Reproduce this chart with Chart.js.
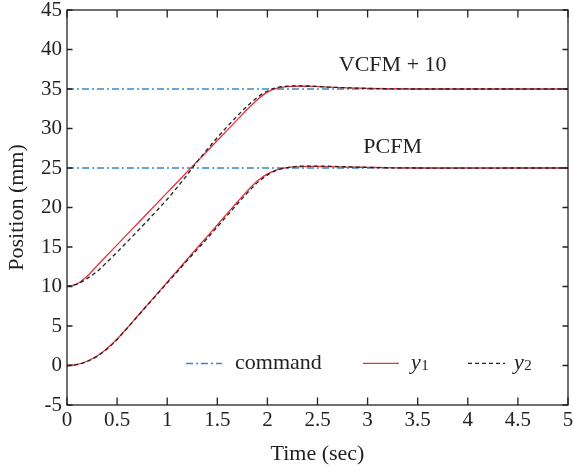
<!DOCTYPE html>
<html>
<head>
<meta charset="utf-8">
<script src="https://cdn.jsdelivr.net/npm/chart.js@4.4.1/dist/chart.umd.min.js"></script>
<style>
  html, body { margin: 0; padding: 0; background: #fff; }
  #wrap { width: 574px; height: 473px; position: relative; }
</style>
</head>
<body>
<div id="wrap"><canvas id="c"></canvas></div>
<script>
// ---- data ----
const timeSec = [0,0.1,0.2,0.3,0.4,0.5,0.6,0.7,0.8,0.9,1.0,1.1,1.2,1.3,1.4,1.5,1.6,1.7,1.8,1.9,2.0,2.1,2.2,2.3,2.4,2.5,2.6,2.8,3.0,3.2,3.5,4.0,4.5,5.0];
const pcfmY1 = [0,0.13,0.54,1.2,2.15,3.35,4.75,6.2,7.65,9.1,10.55,12.0,13.45,14.9,16.35,17.8,19.25,20.7,22.1,23.35,24.25,24.8,25.05,25.15,25.2,25.2,25.18,25.12,25.08,25.04,25.0,25.0,25.0,25.0];
const pcfmY2 = [0,0.12,0.5,1.15,2.1,3.3,4.7,6.15,7.6,9.0,10.45,11.85,13.3,14.7,16.1,17.55,19.0,20.45,21.85,23.15,24.1,24.75,25.05,25.2,25.25,25.25,25.22,25.15,25.08,25.03,25.0,24.98,25.0,25.0];
const vcfmY1 = [10,10.33,11.3,12.62,13.95,15.27,16.6,17.92,19.24,20.56,21.88,23.2,24.52,25.84,27.16,28.48,29.8,31.12,32.44,33.65,34.6,35.1,35.3,35.35,35.35,35.3,35.25,35.15,35.08,35.03,35.0,35.0,35.0,35.0];
const vcfmY2 = [10,10.3,11.0,11.9,13.1,14.35,15.65,16.95,18.3,19.65,21.05,22.55,24.15,25.8,27.35,28.85,30.25,31.6,32.85,33.95,34.75,35.2,35.35,35.4,35.38,35.32,35.25,35.15,35.08,35.03,35.0,35.0,35.0,35.0];
const cmdTime = [0, 5];
const cmdPCFM = [25, 25];
const cmdVCFM = [35, 35];
const xTickStep = 0.5;
const yTickStep = 5;
const xRange = [0, 5];
const yRange = [-5, 45];
const annotations = [
  { text: 'VCFM + 10', x: 3.25, y: 38.0 },
  { text: 'PCFM', x: 3.25, y: 27.6 }
];
const legendItems = ['command', 'y1', 'y2'];

// ---- styles ----
const SERIF = '"Liberation Serif", "Times New Roman", serif';
const TXT = '#222';
const RED = '#e8303c';
const BLK = '#222';
const BLUE = '#3b86c9';
const CMD_DASH = [7, 3, 2, 3];
const Y2_DASH = [4, 3];

const pts = (xs, ys) => xs.map((x, i) => ({ x: x, y: ys[i] }));

function lineDs(label, xs, ys, color, dash, order, width) {
  return {
    label: label,
    data: pts(xs, ys),
    borderColor: color,
    borderWidth: width,
    borderDash: dash,
    pointRadius: 0,
    fill: false,
    cubicInterpolationMode: 'monotone',
    order: order
  };
}

const boxPlugin = {
  id: 'boxAndTicks',
  afterDatasetsDraw(chart) {
    const { ctx, chartArea: a, scales } = chart;
    ctx.save();
    ctx.strokeStyle = '#222';
    ctx.lineWidth = 1.3;
    ctx.setLineDash([]);
    ctx.strokeRect(a.left, a.top, a.right - a.left, a.bottom - a.top);
    ctx.beginPath();
    scales.x.ticks.forEach(t => {
      const px = scales.x.getPixelForValue(t.value);
      ctx.moveTo(px, a.bottom); ctx.lineTo(px, a.bottom - 7.5);
      ctx.moveTo(px, a.top); ctx.lineTo(px, a.top + 7.5);
    });
    scales.y.ticks.forEach(t => {
      const py = scales.y.getPixelForValue(t.value);
      ctx.moveTo(a.left, py); ctx.lineTo(a.left + 5.5, py);
      ctx.moveTo(a.right, py); ctx.lineTo(a.right - 5.5, py);
    });
    ctx.stroke();

    // annotations
    ctx.fillStyle = TXT;
    ctx.font = '22px ' + SERIF;
    ctx.textAlign = 'center';
    ctx.textBaseline = 'middle';
    annotations.forEach(an => {
      ctx.fillText(an.text, scales.x.getPixelForValue(an.x), scales.y.getPixelForValue(an.y));
    });

    // legend
    const ly = scales.y.getPixelForValue(0.26);
    const L = a.left;
    ctx.lineWidth = 1.5;
    ctx.strokeStyle = BLUE; ctx.setLineDash(CMD_DASH);
    ctx.beginPath(); ctx.moveTo(L + 119, ly); ctx.lineTo(L + 155, ly); ctx.stroke();
    ctx.lineWidth = 1.3;
    ctx.strokeStyle = RED; ctx.setLineDash([]);
    ctx.beginPath(); ctx.moveTo(L + 296, ly); ctx.lineTo(L + 332, ly); ctx.stroke();
    ctx.strokeStyle = BLK; ctx.setLineDash(Y2_DASH);
    ctx.beginPath(); ctx.moveTo(L + 401, ly); ctx.lineTo(L + 438, ly); ctx.stroke();
    ctx.setLineDash([]);
    ctx.textAlign = 'left';
    ctx.textBaseline = 'alphabetic';
    const base = ly + 6;
    ctx.font = '22px ' + SERIF;
    ctx.fillText(legendItems[0], L + 168, base);
    const drawSub = (str, x) => {
      ctx.font = 'italic 22px ' + SERIF;
      ctx.fillText(str[0], x, base);
      const w = ctx.measureText(str[0]).width;
      ctx.font = '15px ' + SERIF;
      ctx.fillText(str.slice(1), x + w + 0.5, base + 1);
    };
    drawSub(legendItems[1], L + 344);
    drawSub(legendItems[2], L + 447);
    ctx.restore();
  }
};

new Chart(document.getElementById('c'), {
  type: 'line',
  data: {
    datasets: [
      lineDs('command', cmdTime, cmdPCFM, BLUE, CMD_DASH, 3, 1.5),
      lineDs('command', cmdTime, cmdVCFM, BLUE, CMD_DASH, 3, 1.5),
      lineDs('y1', timeSec, pcfmY1, RED, [], 2, 1.3),
      lineDs('y1', timeSec, vcfmY1, RED, [], 2, 1.3),
      lineDs('y2', timeSec, pcfmY2, BLK, Y2_DASH, 1, 1.3),
      lineDs('y2', timeSec, vcfmY2, BLK, Y2_DASH, 1, 1.3)
    ]
  },
  options: {
    responsive: true,
    maintainAspectRatio: false,
    animation: false,
    parsing: false,
    layout: { padding: { left: 0, top: 10, right: 6, bottom: 0 } },
    plugins: { legend: { display: false }, tooltip: { enabled: false } },
    scales: {
      x: {
        type: 'linear',
        min: xRange[0], max: xRange[1],
        grid: { display: false, drawTicks: false },
        border: { display: false },
        ticks: { stepSize: xTickStep, color: TXT, padding: 6, maxRotation: 0,
                 callback: v => String(v),
                 font: { family: SERIF, size: 21, lineHeight: 0.9 } },
        title: { display: true, text: 'Time (sec)', color: TXT,
                 font: { family: SERIF, size: 22 }, padding: { bottom: 6, top: 0 } },
        afterFit(s) { s.height = 68; s.paddingLeft = 0; s.paddingRight = 0; }
      },
      y: {
        type: 'linear',
        min: yRange[0], max: yRange[1],
        grid: { display: false, drawTicks: false },
        border: { display: false },
        ticks: { stepSize: yTickStep, color: TXT, padding: 5,
                 callback: v => String(v),
                 font: { family: SERIF, size: 21, lineHeight: 0.9 } },
        title: { display: true, text: 'Position (mm)', color: TXT,
                 font: { family: SERIF, size: 22 }, padding: { top: 4, bottom: 0 } },
        afterFit(s) { s.width = 67; s.paddingTop = 0; s.paddingBottom = 0; }
      }
    }
  },
  plugins: [boxPlugin]
});
</script>
</body>
</html>
